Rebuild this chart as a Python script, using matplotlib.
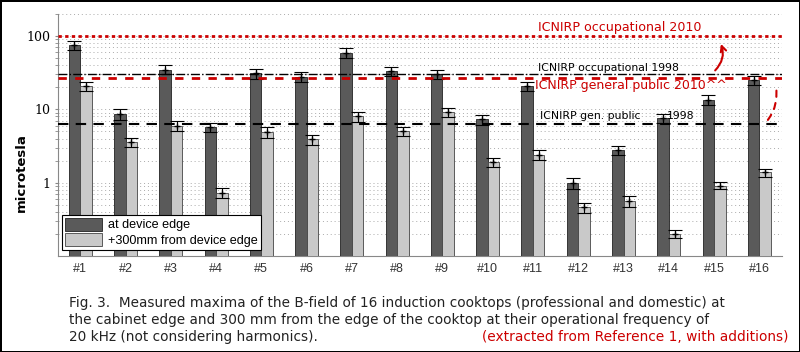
#!/usr/bin/env python3

import numpy as np
import matplotlib
matplotlib.use('Agg')
import matplotlib.pyplot as plt
from matplotlib.patches import Patch

labels = ['#%d' % i for i in range(1, 17)]
edge = [75, 8.6, 35, 5.7, 31, 28, 59, 33, 30, 7.3, 21, 1.0, 2.8, 7.6, 13.6, 25]
edge_err = [10, 1.5, 5, 0.8, 5, 4, 9, 4.5, 4, 1.1, 3, 0.17, 0.4, 1.1, 2, 3.5]
far = [21, 3.6, 6.0, 0.73, 4.9, 3.9, 8.0, 5.0, 9.1, 1.9, 2.4, 0.46, 0.56, 0.2, 0.91, 1.38]
far_err = [3, 0.5, 0.9, 0.12, 0.8, 0.6, 1.2, 0.7, 1.3, 0.25, 0.35, 0.07, 0.09, 0.025, 0.1, 0.17]

occ_2010 = 100
occ_1998 = 30.7
pub_2010 = 27
pub_1998 = 6.25

dark = '#5a5a5a'
light = '#c9c9c9'
red = '#cc0000'

fig = plt.figure(figsize=(8, 3.52), dpi=100, edgecolor='black', linewidth=2)
ax = fig.add_axes([0.072, 0.273, 0.9055, 0.687])

x = np.arange(1, 17)
w = 0.254
ax.bar(x - w / 2, edge, w, color=dark, edgecolor='#222222', linewidth=0.6, zorder=3)
ax.bar(x + w / 2, far, w, color=light, edgecolor='#444444', linewidth=0.6, zorder=3)
ax.errorbar(x - w / 2, edge, yerr=edge_err, fmt='+', color='black', ms=5,
            capsize=5, elinewidth=0.8, capthick=0.8, zorder=4)
ax.errorbar(x + w / 2, far, yerr=far_err, fmt='+', color='black', ms=5,
            capsize=5, elinewidth=0.8, capthick=0.8, zorder=4)

ax.set_yscale('log')
ax.set_ylim(0.1, 200)
ax.set_xlim(0.5, 16.5)

# limit lines
ax.axhline(occ_2010, color=red, ls=(0, (1.2, 1.2)), lw=2, zorder=5)
ax.axhline(occ_1998, color='black', ls='-.', lw=1.0, zorder=5)
ax.axhline(pub_2010, color=red, ls=(0, (3, 3)), lw=2, zorder=5)
ax.axhline(pub_1998, color='black', ls=(0, (5, 3.5)), lw=1.5, zorder=5)

ax.text(11.1, 132, 'ICNIRP occupational 2010', color=red, fontsize=9.1, va='center')
ax.text(11.12, 37, 'ICNIRP occupational 1998', color='black', fontsize=7.8, va='center')
ax.text(11.05, 21.5, 'ICNIRP general public 2010^^', color=red, fontsize=9, va='center')
ax.text(11.15, 8.0, 'ICNIRP gen. public', color='black', fontsize=7.8, va='center')
ax.text(13.96, 8.0, '1998', color='black', fontsize=7.8, va='center')

ax.annotate('', xy=(15.13, 85), xytext=(14.98, 32),
            arrowprops=dict(arrowstyle='->', color=red, lw=1.5,
                            connectionstyle='arc3,rad=0.35'))
ax.annotate('', xy=(16.35, 23), xytext=(16.15, 6.7),
            arrowprops=dict(arrowstyle='-', color=red, lw=1.5, ls=(0, (3, 3)),
                            connectionstyle='arc3,rad=0.25'))

ax.set_xticks(x)
ax.set_xticklabels(labels, family='Liberation Sans', fontsize=9, color='#333333')
ax.set_xticks(np.arange(2, 17, 2), minor=True)
ax.tick_params(axis='x', which='both', length=0, pad=5)
ax.set_yticks([1, 10, 100])
ax.set_yticklabels(['1', '10', '100'], family='DejaVu Serif', fontsize=9)
ax.tick_params(axis='y', which='both', length=2, color='#888888')

ax.grid(True, which='both', axis='y', ls=(0, (1, 3)), color='#aaaaaa', lw=0.7, zorder=0)
ax.grid(True, which='minor', axis='x', ls=(0, (1, 3)), color='#aaaaaa', lw=0.7, zorder=0)
for s in ['top', 'right']:
    ax.spines[s].set_visible(False)
for s in ['left', 'bottom']:
    ax.spines[s].set_color('#888888')

ax.set_ylabel('microtesla', fontsize=9.5, fontweight='bold')
ax.yaxis.set_label_coords(-0.041, 0.343)

handles = [Patch(facecolor=dark, edgecolor='#222222', lw=0.6),
           Patch(facecolor=light, edgecolor='#444444', lw=0.6)]
leg = ax.legend(handles, ['at device edge', '+300mm from device edge'],
                loc='lower left', bbox_to_anchor=(0.006, 0.025), borderaxespad=0,
                fancybox=False, framealpha=1, edgecolor='black',
                handlelength=2.9, handleheight=1.2,
                prop={'family': 'Liberation Sans', 'size': 9.1},
                borderpad=0.25, labelspacing=0.12, handletextpad=0.5)
leg.get_frame().set_linewidth(0.8)
leg.set_zorder(6)

cap = ['Fig. 3.  Measured maxima of the B-field of 16 induction cooktops (professional and domestic) at',
       'the cabinet edge and 300 mm from the edge of the cooktop at their operational frequency of',
       '20 kHz (not considering harmonics).']
for i, line in enumerate(cap):
    fig.text(0.086, 0.139 - i * 0.048, line, fontsize=9.8, va='center', color='#222222',
             family=['Liberation Sans Narrow', 'DejaVu Sans'])
fig.text(0.986, 0.043, '(extracted from Reference 1, with additions)', color=red,
         fontsize=9.9, ha='right', va='center', family='DejaVu Sans')

fig.savefig('out.png', dpi=100, edgecolor=fig.get_edgecolor())
